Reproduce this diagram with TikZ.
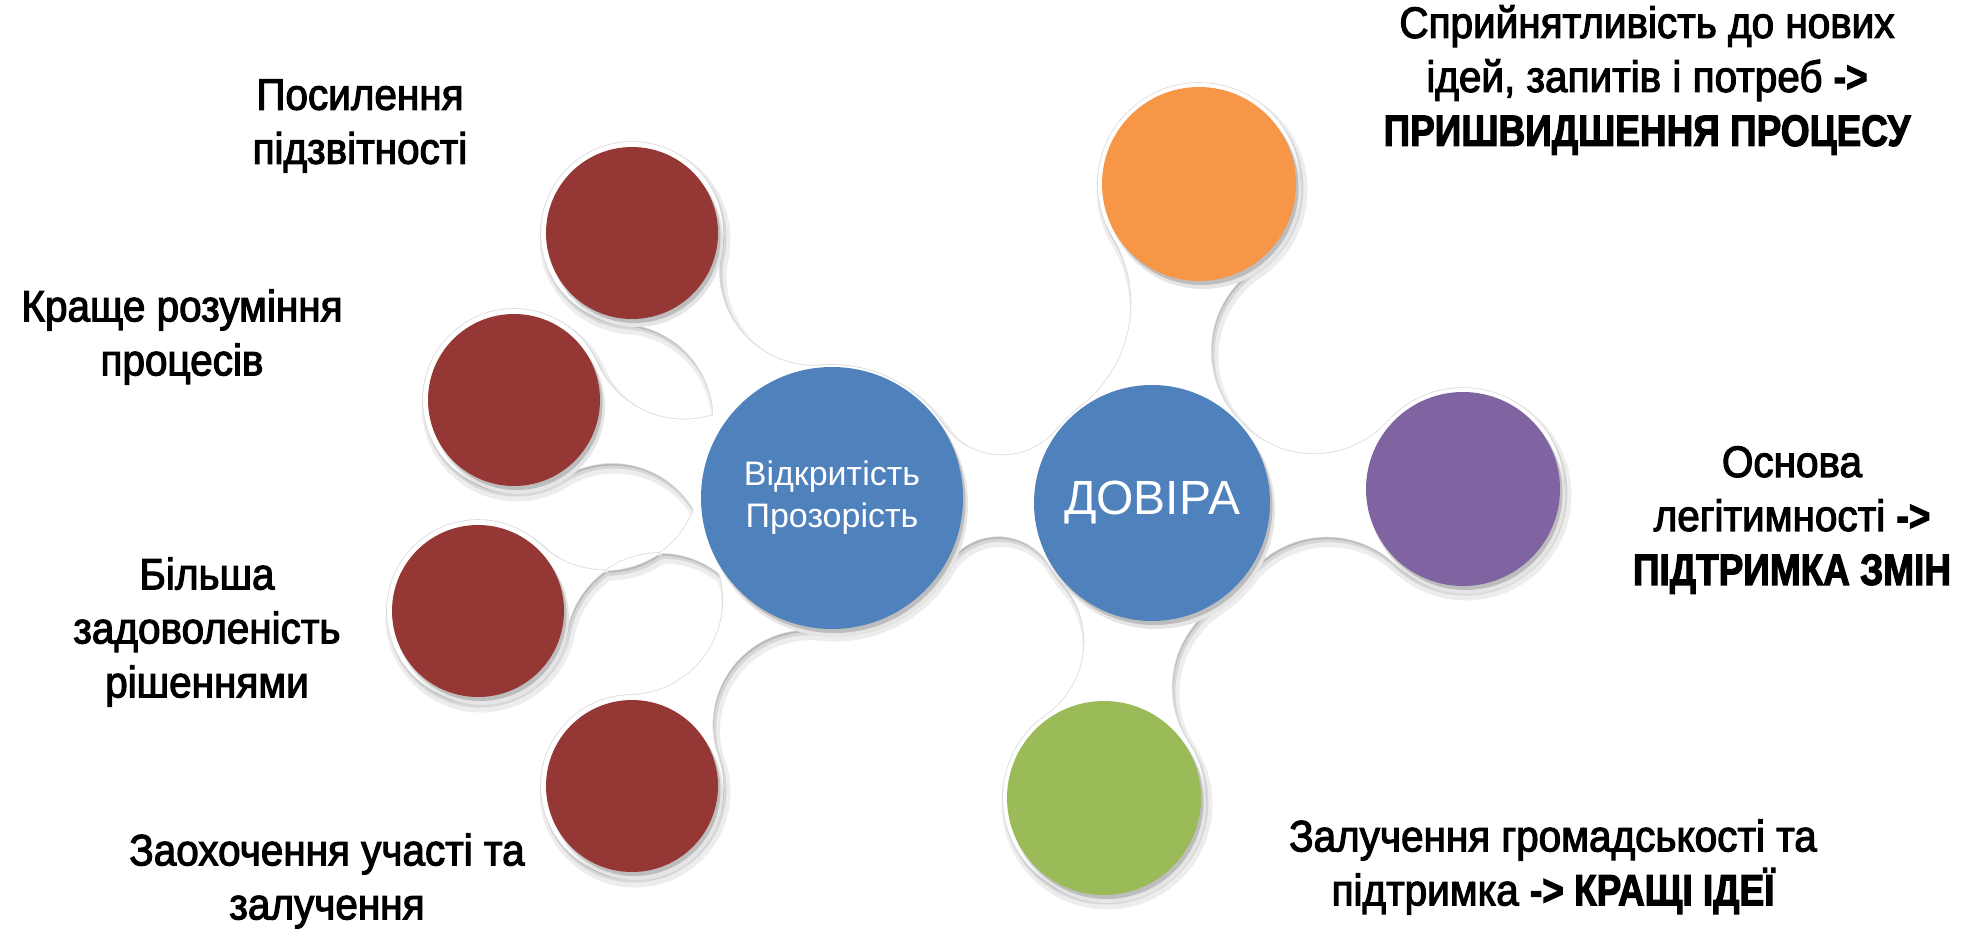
\documentclass[tikz,border=0pt]{standalone}
\usepackage{fontspec}
\usetikzlibrary{calc}

\newfontfamily\labelfont[FakeStretch=0.92,FakeBold=2.5,BoldFeatures={FakeStretch=0.84}]{Liberation Sans}
\newfontfamily\hubfont{Liberation Sans}

\definecolor{hubblue}{HTML}{4F81BD}
\definecolor{satred}{HTML}{953735}
\definecolor{satorange}{HTML}{F79646}
\definecolor{satpurple}{HTML}{8064A2}
\definecolor{satgreen}{HTML}{9BBB59}

\pgfdeclarelayer{neckshadow}
\pgfdeclarelayer{neckfill}
\pgfdeclarelayer{discshadow}
\pgfsetlayers{neckshadow,neckfill,discshadow,main}

% #1 style, #2 hub, #3 satellite, #4/#5 radii, #6/#7 gap radii (left/right)
\newcommand\neck[7]{%
  \pgfpointanchor{#2}{center}\pgfgetlastxy\nkax\nkay
  \pgfpointanchor{#3}{center}\pgfgetlastxy\nkbx\nkby
  \pgfmathsetmacro\nkd{veclen((\nkbx-\nkax)/100,(\nkby-\nkay)/100)}
  \pgfmathsetmacro\nkt{atan2(\nkby-\nkay,\nkbx-\nkax)}
  \pgfmathsetmacro\nksa{(#4+#6)/100}
  \pgfmathsetmacro\nksb{(#5+#6)/100}
  \pgfmathsetmacro\nku{(\nksa*\nksa-\nksb*\nksb+\nkd*\nkd)/(2*\nkd)}
  \pgfmathsetmacro\nkpl{\nkt+atan2(sqrt(\nksa*\nksa-\nku*\nku),\nku)}
  \pgfmathsetmacro\nkql{atan2(\nkby-\nkay-100*\nksa*sin(\nkpl),\nkbx-\nkax-100*\nksa*cos(\nkpl))}
  \pgfmathsetmacro\nkdl{mod(\nkql-\nkpl+720,360)-180}
  \pgfmathsetmacro\nksa{(#4+#7)/100}
  \pgfmathsetmacro\nksb{(#5+#7)/100}
  \pgfmathsetmacro\nku{(\nksa*\nksa-\nksb*\nksb+\nkd*\nkd)/(2*\nkd)}
  \pgfmathsetmacro\nkpr{\nkt-atan2(sqrt(\nksa*\nksa-\nku*\nku),\nku)}
  \pgfmathsetmacro\nkqr{atan2(\nkby-\nkay-100*\nksa*sin(\nkpr),\nkbx-\nkax-100*\nksa*cos(\nkpr))}
  \pgfmathsetmacro\nkdr{mod(\nkpr-\nkqr+720,360)-180}
  \path[#1] (#2.center) -- ++(\nkpl:#4pt)
      arc[start angle=\nkpl+180, delta angle=\nkdl, radius=#6pt]
    -- (#3.center) -- ++(\nkqr+180:#5pt)
      arc[start angle=\nkqr, delta angle=\nkdr, radius=#7pt] -- cycle;
}

\newcommand\blob[1]{%
  \foreach \h/\s/\rh/\rs/\gl/\gr in {vidkr/dovira/133/120/72/60,
      vidkr/pidzv/133/91/95/95, vidkr/rozum/133/91/95/95,
      vidkr/zadov/133/91/95/95, vidkr/uchast/133/91/95/95,
      dovira/spryin/120/101/130/100, dovira/legit/120/101/100/100,
      dovira/gromad/120/101/100/90}
    {\neck{#1}{\h}{\s}{\rh}{\rs}{\gl}{\gr}}
  \foreach \n/\r in {vidkr/133, dovira/120, pidzv/91, rozum/91, zadov/91,
      uchast/91, spryin/101, legit/101, gromad/101}
    {\path[#1] (\n.center) circle[radius=\r pt];}
}

\tikzset{
  hubdisc/.style={circle, inner sep=0pt, fill=hubblue, text=white, align=center},
  satdisc/.style={circle, inner sep=0pt, minimum size=#1},
  lbl/.style={font=\labelfont\fontsize{44}{54}\selectfont, align=center, inner sep=0pt}
}

\begin{document}
\begin{tikzpicture}[x=1pt,y=-1pt]
    \useasboundingbox (0,0) rectangle (1972,931);

    \node [hubdisc, minimum size=262pt, font=\hubfont\fontsize{34}{42}\selectfont]
        (vidkr) at (832,498) {Відкритість\\Прозорість};
    \node [hubdisc, minimum size=236pt, font=\hubfont\fontsize{48}{56}\selectfont]
        (dovira) at (1152,503) {ДОВІРА};

    \node [satdisc=172pt, fill=satred]    (pidzv)  at (632,233) {};
    \node [satdisc=172pt, fill=satred]    (rozum)  at (514,400) {};
    \node [satdisc=172pt, fill=satred]    (zadov)  at (478,611) {};
    \node [satdisc=172pt, fill=satred]    (uchast) at (632,786) {};
    \node [satdisc=194pt, fill=satorange] (spryin) at (1199,184) {};
    \node [satdisc=194pt, fill=satpurple] (legit)  at (1463,489) {};
    \node [satdisc=194pt, fill=satgreen]  (gromad) at (1104,798) {};

    \begin{pgfonlayer}{neckshadow}
        \begin{scope}[transform canvas={shift={(3pt,-6pt)}}]
            \blob{fill=black!7, draw=black!7, line width=9pt}
        \end{scope}
        \begin{scope}[transform canvas={shift={(2pt,-4pt)}}]
            \blob{fill=black!16, draw=black!16, line width=3pt}
        \end{scope}
        \begin{scope}[transform canvas={shift={(1pt,-2.5pt)}}]
            \blob{fill=black!28}
        \end{scope}
        \blob{draw=black!14, line width=1.6pt}
    \end{pgfonlayer}
    \begin{pgfonlayer}{neckfill}
        \blob{fill=white}
    \end{pgfonlayer}

    \begin{pgfonlayer}{discshadow}
        \foreach \n/\r in {vidkr/131, dovira/118, pidzv/86, rozum/86, zadov/86,
            uchast/86, spryin/97, legit/97, gromad/97}{
            \fill [black!10, transform canvas={shift={(4pt,-7pt)}}] (\n.center) circle[radius=\r pt+1pt];
            \fill [black!26, transform canvas={shift={(2.5pt,-4pt)}}] (\n.center) circle[radius=\r pt];
        }
    \end{pgfonlayer}

    \node [lbl] (tpidzv)  at (360,126) {Посилення\\підзвітності};
    \node [lbl] (trozum)  at (182,337) {Краще розуміння\\процесів};
    \node [lbl] (tzadov)  at (207,632) {Більша\\задоволеність\\рішеннями};
    \node [lbl] (tuchast) at (327,881) {Заохочення участі та\\залучення};
    \node [lbl] (tspryin) at (1647,80)
        {Сприйнятливість до нових\\ідей, запитів і потреб {\bfseries->}\\{\bfseries ПРИШВИДШЕННЯ ПРОЦЕСУ}};
    \node [lbl] (tlegit)  at (1792,520)
        {Основа\\легітимності {\bfseries->}\\{\bfseries ПІДТРИМКА ЗМІН}};
    \node [lbl] (tgromad) at (1553,867)
        {Залучення громадськості та\\підтримка {\bfseries-> КРАЩІ ІДЕЇ}};

\end{tikzpicture}
\end{document}
